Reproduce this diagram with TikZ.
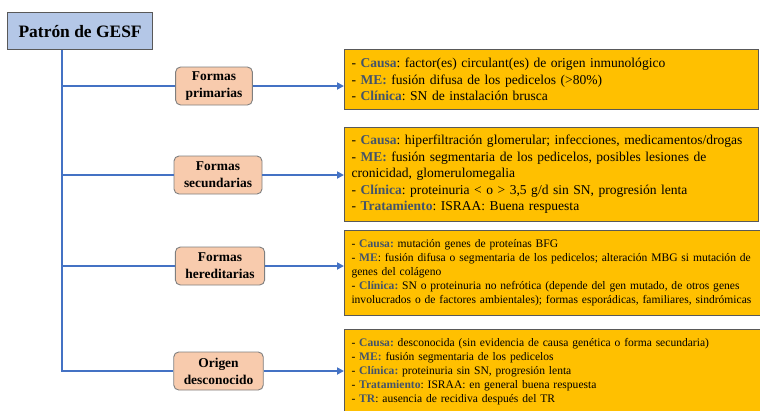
\documentclass[tikz,border=0pt]{standalone}
\usepackage{fontspec}
\setmainfont{LiberationSerif}[Extension=.ttf, UprightFont=*-Regular, BoldFont=*-Bold, ItalicFont=*-Italic, BoldItalicFont=*-BoldItalic]
\usetikzlibrary{arrows.meta,calc}
\definecolor{lineblue}{HTML}{4472C4}
\definecolor{titlefill}{HTML}{B4C7E7}
\definecolor{catfill}{HTML}{F8CBAD}
\definecolor{yfill}{HTML}{FFC000}
\definecolor{labcol}{HTML}{44546A}
\definecolor{bordergray}{HTML}{7F7F7F}
\definecolor{darkborder}{HTML}{595959}
\newcommand{\lbl}[1]{\textcolor{labcol}{\textbf{#1}}}
\frenchspacing
\begin{document}
\begin{tikzpicture}[x=1bp,y=-1bp,
  titlebox/.style={draw=darkborder, line width=1.2bp, fill=titlefill, inner sep=0pt,
    minimum width=145bp, minimum height=37bp, font=\fontsize{17.5}{20}\selectfont\bfseries},
  catbox/.style={draw=bordergray, line width=0.9bp, fill=catfill, rounded corners=5bp,
    align=center, inner xsep=10bp, inner ysep=2bp, minimum height=38bp,
    font=\fontsize{13.5}{17}\selectfont\bfseries},
  ybox/.style={draw=darkborder, line width=1bp, fill=yfill, anchor=north west,
    inner xsep=7bp, inner ysep=2bp, align=left},
  bigtxt/.style={text width=400bp, font=\fontsize{13.6}{16.5}\selectfont},
  smalltxt/.style={text width=402bp, font=\fontsize{11.6}{14}\selectfont},
  conn/.style={draw=lineblue, line width=2.5bp},
  arr/.style={-{Triangle[length=7bp,width=7bp]}}
]
\useasboundingbox (0,0) rectangle (760,410);
\clip (0,0) rectangle (760,410);

\node[titlebox, anchor=north west] (title) at (7,12) {Patrón de GESF};

\node[catbox] (c1) at (214,86) {Formas\\primarias};
\node[catbox] (c2) at (218,175) {Formas\\secundarias};
\node[catbox] (c3) at (220,266) {Formas\\hereditarias};
\node[catbox] (c4) at (218.5,371) {Origen\\desconocido};

\node[ybox, bigtxt, minimum height=60bp, minimum width=414bp] (d1) at (344,49) {%
- \lbl{Causa}: factor(es) circulant(es) de origen inmunológico\\
- \lbl{ME:} fusión difusa de los pedicelos (>80\%)\\
- \lbl{Clínica}: SN de instalación brusca};

\node[ybox, bigtxt, minimum height=94bp, minimum width=414bp] (d2) at (344,127) {%
- \lbl{Causa}: hiperfiltración glomerular; infecciones, medicamentos/drogas\\
- \lbl{ME:} fusión segmentaria de los pedicelos, posibles lesiones de\\
cronicidad, glomerulomegalia\\
- \lbl{Clínica}: proteinuria < o > 3,5 g/d sin SN, progresión lenta\\
- \lbl{Tratamiento}: ISRAA: Buena respuesta};

\node[ybox, smalltxt, minimum height=85bp, minimum width=414bp] (d3) at (344,230) {%
- \lbl{Causa:} mutación genes de proteínas BFG\\
\makebox[421bp][s]{- \lbl{ME}: fusión difusa o segmentaria de los pedicelos; alteración MBG si mutación de}\\
genes del colágeno\\
- \lbl{Clínica:} SN o proteinuria no nefrótica (depende del gen mutado, de otros genes\\
involucrados o de factores ambientales); formas esporádicas, familiares, sindrómicas};

\node[ybox, smalltxt, minimum height=85bp, minimum width=414bp] (d4) at (344,329) {%
- \lbl{Causa:} desconocida (sin evidencia de causa genética o forma secundaria)\\
- \lbl{ME:} fusión segmentaria de los pedicelos\\
- \lbl{Clínica:} proteinuria sin SN, progresión lenta\\
- \lbl{Tratamiento}: ISRAA: en general buena respuesta\\
- \lbl{TR}: ausencia de recidiva después del TR};

\coordinate (top) at ($(title.south west)+(55,0)$);
\draw[conn] (top) -- (top |- c4.west) -- (c4.west);
\draw[conn] (top |- c1.west) -- (c1.west);
\draw[conn] (top |- c2.west) -- (c2.west);
\draw[conn] (top |- c3.west) -- (c3.west);

\draw[conn, arr] (c1.east) -- (c1.east -| d1.west);
\draw[conn, arr] (c2.east) -- (c2.east -| d2.west);
\draw[conn, arr] (c3.east) -- (c3.east -| d3.west);
\draw[conn, arr] (c4.east) -- (c4.east -| d4.west);
\end{tikzpicture}
\end{document}
